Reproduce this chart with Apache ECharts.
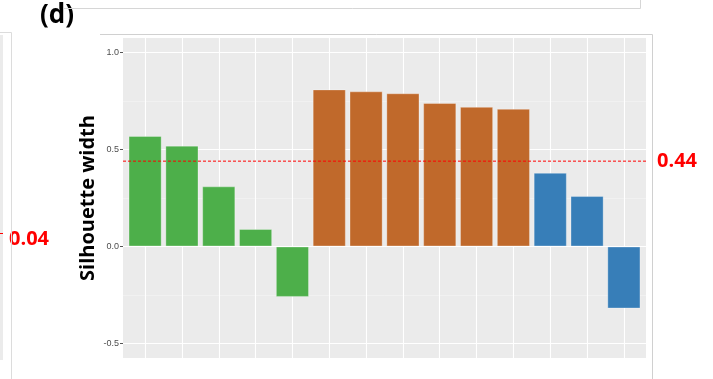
<!DOCTYPE html>
<html>
<head>
<meta charset="utf-8">
<script src="https://cdn.jsdelivr.net/npm/echarts@6/dist/echarts.min.js"></script>
<style>
  html, body { margin: 0; padding: 0; background: #fff; }
  #chart { width: 713px; height: 379px; }
</style>
</head>
<body>
<div id="chart"></div>
<script>
// silhouette width per sample, ordered by cluster
const clusterOf = [1, 1, 1, 1, 1, 2, 2, 2, 2, 2, 2, 3, 3, 3];
const silWidth = [0.57, 0.52, 0.31, 0.09, -0.26, 0.81, 0.80, 0.79, 0.74, 0.72, 0.71, 0.38, 0.26, -0.32];
const clusterColors = { 1: '#4DAF4A', 2: '#C0692B', 3: '#377EB8' };
const yTicks = [-0.5, 0, 0.5, 1.0];
const yMinor = [-0.25, 0.25, 0.75];
const meanWidth = 0.44;
const neighbourMean = 0.04;

const xMin = 0.4, xMax = 14.6;
const boldFont = '"Open Sans", "DejaVu Sans", sans-serif';

const chart = echarts.init(document.getElementById('chart'));

const bars = silWidth.map((v, i) => ({
  value: [i + 1, v],
  itemStyle: { color: clusterColors[clusterOf[i]] }
}));

// panel grid lines (ggplot style), drawn under the bars
const gridLines = []
  .concat(yMinor.map(v => ({ yAxis: v, lineStyle: { color: '#f5f5f5', width: 0.6, type: 'solid' } })))
  .concat(yTicks.map(v => ({ yAxis: v, lineStyle: { color: '#ffffff', width: 1.1, type: 'solid' } })))
  .concat(silWidth.map((v, i) => ({ xAxis: i + 1, lineStyle: { color: '#ffffff', width: 1.1, type: 'solid' } })));

chart.setOption({
  animation: false,
  backgroundColor: '#ffffff',
  grid: {
    left: 123, right: 67, top: 38, bottom: 21,
    show: true, backgroundColor: '#ebebeb', borderWidth: 0
  },
  xAxis: {
    type: 'value', min: xMin, max: xMax,
    axisLine: { show: false }, axisTick: { show: false },
    axisLabel: { show: false }, splitLine: { show: false }
  },
  yAxis: {
    type: 'value', min: -0.575, max: 1.075,
    name: 'Silhouette width',
    nameLocation: 'middle',
    nameGap: 25,
    nameMoveOverlap: false,
    nameTextStyle: { fontFamily: boldFont, fontWeight: 'bold', fontSize: 20, color: '#000' },
    axisLine: { show: false },
    splitLine: { show: false },
    axisTick: { show: true, length: 3, lineStyle: { color: '#555' }, customValues: yTicks },
    axisLabel: {
      customValues: yTicks,
      formatter: v => v.toFixed(1),
      fontSize: 9, color: '#4d4d4d', margin: 4,
      fontFamily: '"Liberation Sans", Arial, sans-serif'
    }
  },
  series: [
    {
      type: 'line', data: [], silent: true,
      markLine: {
        silent: true, symbol: 'none', z: 1,
        label: { show: false },
        data: gridLines
      }
    },
    {
      type: 'bar', data: bars, barWidth: '90%', z: 2,
      itemStyle: { borderColor: 'rgba(255,255,255,0.3)', borderWidth: 1 }
    },
    {
      // mean silhouette width, across the whole panel
      type: 'line', silent: true, z: 6,
      data: [[xMin, meanWidth], [xMax, meanWidth]],
      showSymbol: false, symbol: 'none',
      color: '#ff0000',
      lineStyle: { color: '#ff0000', type: [3, 2], width: 1 },
      endLabel: {
        show: true, distance: 11,
        formatter: meanWidth.toFixed(2),
        color: '#ff0000', fontWeight: 'bold', fontSize: 20, fontFamily: boldFont
      }
    }
  ],
  graphic: [
    { type: 'text', left: 40, top: 3, style: { text: '(d)', font: 'bold 26px ' + boldFont, fill: '#000' } },
    { type: 'text', left: 9, top: 229, style: { text: neighbourMean.toFixed(2), font: 'bold 20px ' + boldFont, fill: '#ff0000' } },
    { type: 'polyline', shape: { points: [[64, 8.5], [640.5, 8.5], [640.5, 0]] }, style: { stroke: '#d6d6d6', fill: null, lineWidth: 1 } },
    { type: 'polyline', shape: { points: [[100, 34.5], [652.5, 34.5], [652.5, 379]] }, style: { stroke: '#d0d0d0', fill: null, lineWidth: 1 } },
    { type: 'polyline', shape: { points: [[0, 32.5], [11.5, 32.5], [11.5, 379]] }, style: { stroke: '#dcdcdc', fill: null, lineWidth: 1 } },
    { type: 'rect', shape: { x: 0, y: 35, width: 3, height: 325 }, style: { fill: '#ebebeb' } },
    { type: 'line', shape: { x1: 0, y1: 233.5, x2: 3, y2: 233.5 }, style: { stroke: '#ff0000', lineWidth: 1 } }
  ]
});
</script>
</body>
</html>
